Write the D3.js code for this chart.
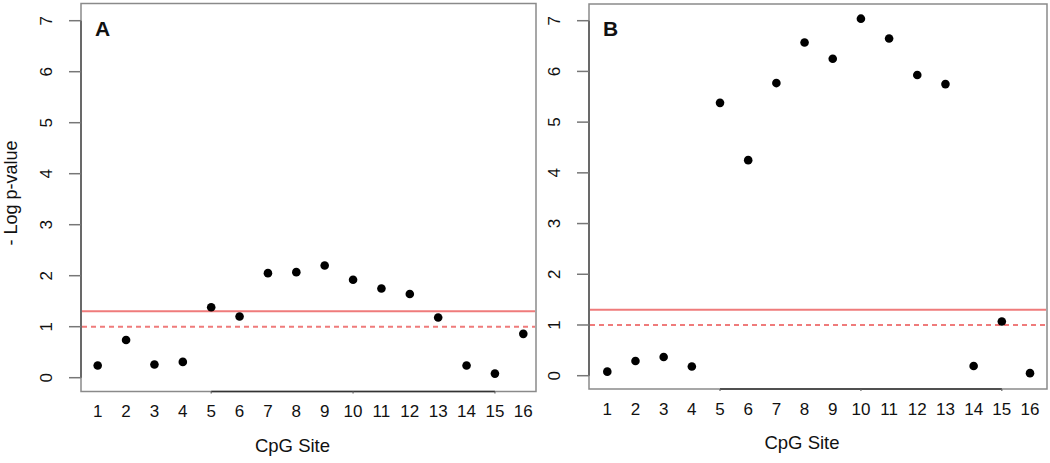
<!DOCTYPE html>
<html>
<head>
<meta charset="utf-8">
<script src="https://cdn.jsdelivr.net/npm/d3@7"></script>
<style>
  body { margin: 0; background: #fff; }
  text { font-family: "Liberation Sans", Arial, sans-serif; fill: #111; }
</style>
</head>
<body>
<svg id="chart" width="1050" height="463"></svg>
<script>
// CpG sites 1..16
const sites = d3.range(1, 17);
const siteLabels = sites.map(String);
const yTicks = [0, 1, 2, 3, 4, 5, 6, 7];

// -log10 p-values
const valuesA = [0.24, 0.74, 0.26, 0.31, 1.38, 1.2, 2.05, 2.07, 2.2, 1.92, 1.75, 1.64, 1.18, 0.24, 0.08, 0.86];
const valuesB = [0.08, 0.29, 0.37, 0.18, 5.38, 4.25, 5.77, 6.57, 6.25, 7.04, 6.65, 5.93, 5.75, 0.19, 1.07, 0.05];

// significance thresholds: p = 0.05 (solid) and p = 0.1 (dashed)
const thresholds = [{value: -Math.log10(0.05), dash: null}, {value: 1, dash: '5,4'}];

const panels = [
  {label: 'A', data: valuesA, box: {l: 81, r: 536, t: 3.5, b: 391.5},
   x: [97.7, 523.3], y: [377.7, 20.7], yLabelX: 52},
  {label: 'B', data: valuesB, box: {l: 589, r: 1047, t: 4, b: 389},
   x: [607.3, 1030], y: [375.7, 20.7], yLabelX: 560},
];

const svg = d3.select('#chart');

panels.forEach(p => {
  const xScale = d3.scaleLinear().domain([1, 16]).range(p.x);
  const yScale = d3.scaleLinear().domain([0, 7]).range(p.y);
  const g = svg.append('g');

  // Frame.
  g.append('rect')
      .attr('x', p.box.l).attr('y', p.box.t)
      .attr('width', p.box.r - p.box.l).attr('height', p.box.b - p.box.t)
      .attr('fill', 'none').attr('stroke', '#8a8a8a').attr('stroke-width', 1.5);

  // Y axis: ticks + rotated labels.
  g.append('line')
      .attr('x1', p.box.l).attr('x2', p.box.l)
      .attr('y1', yScale(0)).attr('y2', yScale(7))
      .attr('stroke', '#555').attr('stroke-width', 1.5);
  g.selectAll('.ytick').data(yTicks).join('line')
      .attr('x1', p.box.l - 12).attr('x2', p.box.l)
      .attr('y1', d => yScale(d)).attr('y2', d => yScale(d))
      .attr('stroke', '#777').attr('stroke-width', 1.5);
  g.selectAll('.ylab').data(yTicks).join('text')
      .attr('transform', d => `translate(${p.yLabelX},${yScale(d)}) rotate(-90)`)
      .attr('text-anchor', 'middle')
      .attr('font-size', 17)
      .text(d => d);

  // X axis: R-style line from 5 to 15, labels at every site.
  const xAxisTicks = [5, 10, 15];
  g.append('line')
      .attr('x1', xScale(5)).attr('x2', xScale(15))
      .attr('y1', p.box.b).attr('y2', p.box.b)
      .attr('stroke', '#333').attr('stroke-width', 1.5);
  g.selectAll('.xtick').data(xAxisTicks).join('line')
      .attr('x1', d => xScale(d)).attr('x2', d => xScale(d))
      .attr('y1', p.box.b).attr('y2', p.box.b + 2)
      .attr('stroke', '#666').attr('stroke-width', 1.2);
  g.selectAll('.xlab').data(sites).join('text')
      .attr('x', d => xScale(d))
      .attr('y', p.box.b + 25.5)
      .attr('text-anchor', 'middle')
      .attr('font-size', 17)
      .text((d, i) => siteLabels[i]);

  g.append('text')
      .attr('x', (p.box.l + p.box.r) / 2 - 16)
      .attr('y', p.box.b + 60)
      .attr('text-anchor', 'middle')
      .attr('font-size', 18.5)
      .text('CpG Site');

  // Threshold lines.
  thresholds.forEach(t => {
    g.append('line')
        .attr('x1', p.box.l + 1).attr('x2', p.box.r - 1)
        .attr('y1', yScale(t.value)).attr('y2', yScale(t.value))
        .attr('stroke', '#ef7b7b').attr('stroke-width', 2)
        .attr('stroke-dasharray', t.dash);
  });

  // Points.
  g.selectAll('circle').data(p.data).join('circle')
      .attr('cx', (d, i) => xScale(sites[i]))
      .attr('cy', d => yScale(d))
      .attr('r', 4.3)
      .attr('fill', '#000');

  // Panel letter.
  g.append('text')
      .attr('x', p.box.l + 14)
      .attr('y', 36)
      .attr('font-size', 21)
      .attr('font-weight', 'bold')
      .text(p.label);
});

// Shared y axis title.
svg.append('text')
    .attr('transform', 'translate(17,193) rotate(-90)')
    .attr('text-anchor', 'middle')
    .attr('font-size', 18)
    .text('- Log p-value');
</script>
</body>
</html>
